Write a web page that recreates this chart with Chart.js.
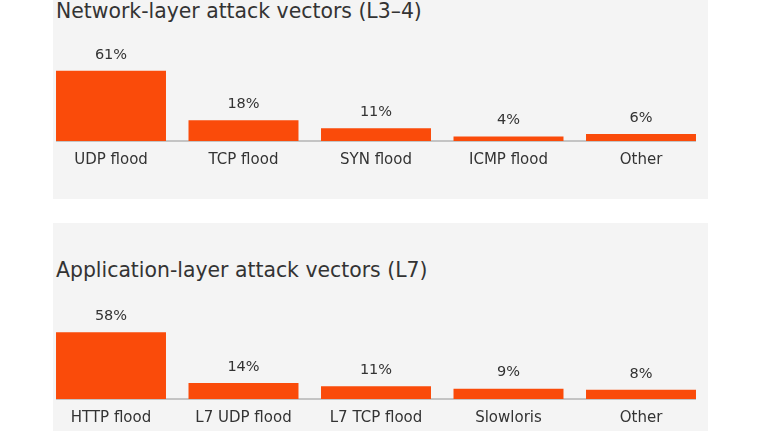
<!DOCTYPE html>
<html>
<head>
<meta charset="utf-8">
<script src="https://cdn.jsdelivr.net/npm/chart.js@4/dist/chart.umd.min.js"></script>
<style>
  html, body { margin: 0; padding: 0; background: #fff; width: 765px; height: 431px; overflow: hidden; }
  body { position: relative; font-family: "DejaVu Sans", sans-serif; }
  .panel { position: absolute; left: 53px; width: 655px; background: #f4f4f4; }
  .title { position: absolute; left: 56px; font-size: 20.4px; line-height: 24px; color: #333; white-space: nowrap; }
  .wrap { position: absolute; left: 0; width: 765px; height: 153px; }
</style>
</head>
<body>
<div class="panel" style="top:-10px;height:209px"></div>
<div class="panel" style="top:223px;height:210px"></div>
<div class="title" style="top:-1px">Network-layer attack vectors (L3–4)</div>
<div class="title" style="top:258px">Application-layer attack vectors (L7)</div>
<div class="wrap" style="top:26px"><canvas id="networkChart"></canvas></div>
<div class="wrap" style="top:284px"><canvas id="appChart"></canvas></div>
<script>
const networkLabels = ["UDP flood", "TCP flood", "SYN flood", "ICMP flood", "Other"];
const networkValues = [61, 18, 11, 4, 6];
const appLabels = ["HTTP flood", "L7 UDP flood", "L7 TCP flood", "Slowloris", "Other"];
const appValues = [58, 14, 11, 9, 8];

const barColor = "#fa4b0a";
const textColor = "#333333";

// baseline under the bars + percent labels above them
const barExtras = {
  id: "barExtras",
  beforeDatasetsDraw(chart) {
    const bars = chart.getDatasetMeta(0).data;
    const first = bars[0], last = bars[bars.length - 1];
    const y = chart.scales.y.getPixelForValue(0);
    const c = chart.ctx;
    c.save();
    c.strokeStyle = "#b4b4b4";
    c.lineWidth = 1.5;
    c.beginPath();
    c.moveTo(first.x - first.width / 2, y);
    c.lineTo(last.x + last.width / 2, y);
    c.stroke();
    c.restore();
  },
  afterDatasetsDraw(chart) {
    const c = chart.ctx;
    const values = chart.data.datasets[0].data;
    c.save();
    c.fillStyle = textColor;
    c.font = '14.5px "DejaVu Sans", sans-serif';
    c.textAlign = "center";
    c.textBaseline = "middle";
    chart.getDatasetMeta(0).data.forEach((bar, i) => {
      c.fillText(values[i] + "%", bar.x, bar.y - 16);
    });
    c.restore();
  },
};

function makeChart(id, labels, values) {
  return new Chart(document.getElementById(id).getContext("2d"), {
    type: "bar",
    data: {
      labels: labels,
      datasets: [
        {
          data: values,
          backgroundColor: barColor,
          categoryPercentage: 1,
          barPercentage: 0.83,
        },
      ],
    },
    options: {
      responsive: true,
      maintainAspectRatio: false,
      animation: false,
      layout: { padding: { left: 44.75, right: 57.75, top: 0, bottom: 0 } },
      plugins: { legend: { display: false }, tooltip: { enabled: false } },
      scales: {
        x: {
          grid: { display: false, drawTicks: false },
          border: { display: false },
          ticks: {
            color: textColor,
            padding: 10,
            font: { family: '"DejaVu Sans", sans-serif', size: 15 },
          },
        },
        y: { display: false, min: 0, max: 100 },
      },
    },
    plugins: [barExtras],
  });
}

makeChart("networkChart", networkLabels, networkValues);
makeChart("appChart", appLabels, appValues);
</script>
</body>
</html>
